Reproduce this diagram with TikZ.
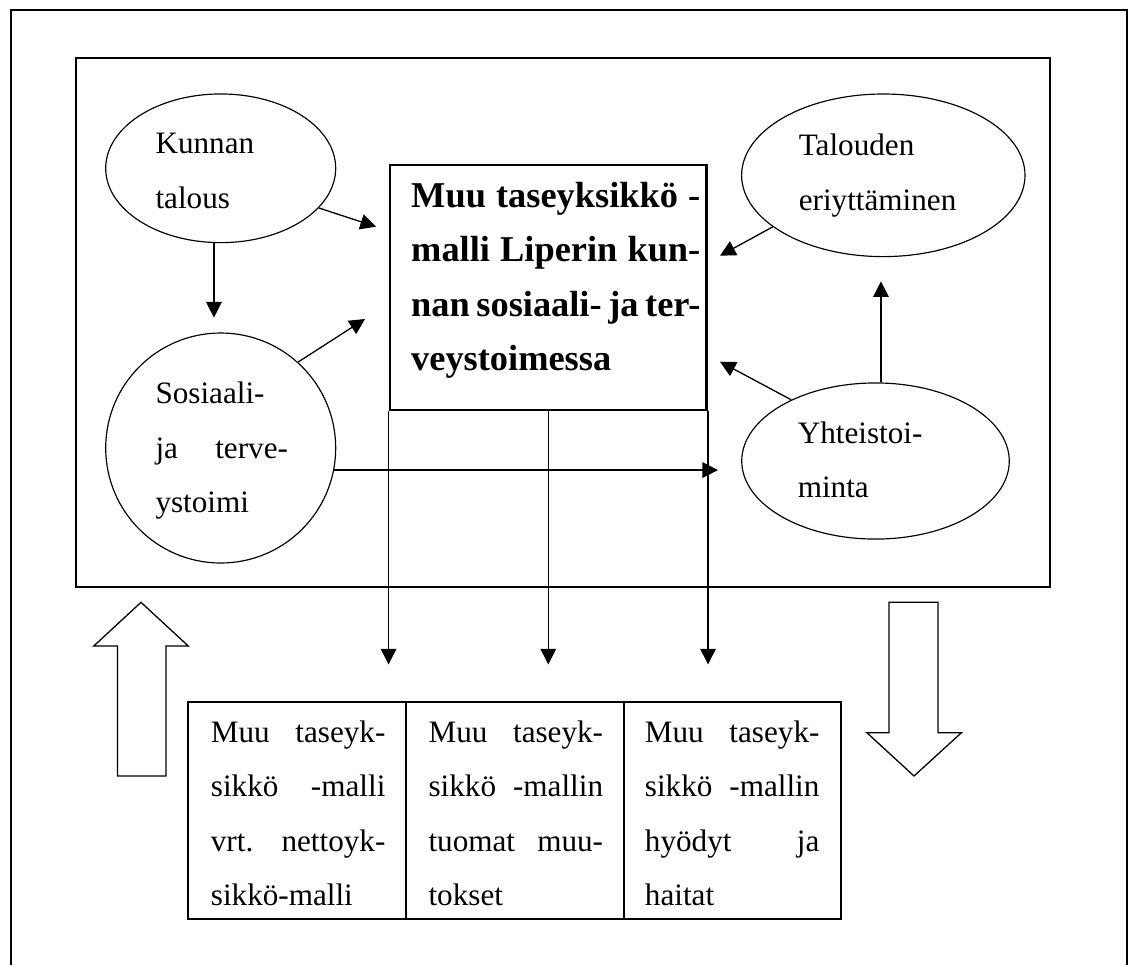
\documentclass[tikz,border=0pt]{standalone}
\usepackage{fontspec}
\setmainfont{Liberation Serif}
\usetikzlibrary{arrows.meta, positioning, calc, shapes.geometric}

\newcommand{\jl}[2]{\makebox[#1][s]{#2}}% justified line
\def\mw{111.3pt}   % text width, main box
\def\cw{67.2pt}    % text width, table cells

\tikzset{
  >={Triangle[length=6pt, width=6pt]},
  %
  frame/.style={draw=black, line width=0.75pt},
  oval/.style={draw=black, line width=0.45pt, ellipse, inner sep=0pt},
  mainbox/.style={draw=black, line width=1.1pt, inner sep=0pt,
                  minimum width=121.9pt, minimum height=94.3pt},
  cell/.style={draw=black, line width=0.7pt, inner sep=0pt, outer sep=0pt,
               minimum width=83.8pt, minimum height=83.5pt},
  %
  flow/.style={draw=black, line width=0.5pt, ->},
  hollow/.style={draw=black, line width=0.5pt, fill=white},
  %
  txt/.style={font=\fontsize{12}{21}\selectfont, inner sep=0pt,
              anchor=north west, align=left},
  txtb/.style={txt, font=\fontsize{14}{21}\selectfont\bfseries},
}

\begin{document}
\begin{tikzpicture}[x=0.385pt, y=-0.385pt]

  \useasboundingbox (0,0) rectangle (1131,964);

  % --- frames ------------------------------------------------------------
  \draw[frame] (11,970) |- (1127,10) -- (1127,970);
  \draw[frame] (75.7,58.3) rectangle (1050,586.7);

  % --- shapes ------------------------------------------------------------
  \node[oval, minimum width=88.55pt, minimum height=57.25pt] (kunnan) at (220.7,168.3) {};
  \node[oval, circle, minimum size=88.55pt] (sos) at (220.7,448) {};
  \node[oval, minimum width=109.1pt, minimum height=62.6pt] (tal) at (883.3,175.3) {};
  \node[oval, minimum width=103pt, minimum height=60.1pt] (yht) at (875.5,461) {};
  \node[mainbox] (main) at (548.3,287.5) {};

  \node[txt] (kunnan-t) at (155,115.1) {\strut Kunnan\\talous};
  \node[txt] (sos-t) at (155,364.8) {\strut Sosiaali-\\\jl{51pt}{ja terve-}\\ystoimi};
  \node[txt] (tal-t) at (798.3,116.8) {\strut Talouden\\eriyttäminen};
  \node[txt] (yht-t) at (797.3,404.5) {\strut Yhteistoi-\\minta};
  \node[txtb] (main-t) at (410.7,168.5)
    {\strut\jl{\mw}{Muu taseyksikkö -}\\\jl{\mw}{malli Liperin kun-}\\
     \jl{\mw}{nan sosiaali- ja ter-}\\veystoimessa};

  % --- connectors --------------------------------------------------------
  \coordinate (tipkm) at (376,226.7);
  \coordinate (tipsm) at (365,319);
  \coordinate (tiptm) at (720,255.7);
  \coordinate (tipym) at (720,361.7);
  \coordinate (tipsy) at (718,470.7);

  \draw[flow] (kunnan.-22) -- (tipkm);
  \draw[flow] ([xshift=-2.6pt]kunnan.south) -- ++(0,74.3);
  \draw[flow] (sos.48) -- (tipsm);
  \draw[flow] (sos.-11.4) -- (sos.-11.4 -| tipsy);
  \draw[flow] (tal.205) -- (tiptm);
  \draw[flow] ([xshift=2.1pt]yht.north) -- ++(0,-101);
  \draw[flow] (yht.144) -- (tipym);
  \foreach \a in {south west, south, south east}
    \draw[flow] (main.\a) -- ++(0,253);

  % --- hollow arrows -----------------------------------------------------
  \draw[hollow] (141,602.3) -- (188.3,646) -- (166,646) -- (166,776)
    -- (117.4,776) -- (117.4,646) -- (93.8,646) -- cycle;
  \draw[hollow] (889,602.3) -- (938,602.3) -- (938,732.7) -- (961.4,732.7)
    -- (914,776) -- (866.9,732.7) -- (889,732.7) -- cycle;

  % --- table -------------------------------------------------------------
  \node[cell, anchor=north west] (cella) at (188.3,702.3) {};
  \node[cell, right=0pt of cella] (cellb) {};
  \node[cell, right=0pt of cellb] (cellc) {};

  \node[txt] (cella-t) at ([xshift=8.5pt,yshift=-0.5pt]cella.north west)
    {\strut\jl{\cw}{Muu taseyk-}\\\jl{\cw}{sikkö -malli}\\\jl{\cw}{vrt. nettoyk-}\\sikkö-malli};
  \node[txt] (cellb-t) at ([xshift=8.5pt,yshift=-0.5pt]cellb.north west)
    {\strut\jl{\cw}{Muu taseyk-}\\\jl{\cw}{sikkö -mallin}\\\jl{\cw}{tuomat muu-}\\tokset};
  \node[txt] (cellc-t) at ([xshift=8pt,yshift=-0.5pt]cellc.north west)
    {\strut\jl{\cw}{Muu taseyk-}\\\jl{\cw}{sikkö -mallin}\\\jl{\cw}{hyödyt ja}\\haitat};

\end{tikzpicture}
\end{document}
